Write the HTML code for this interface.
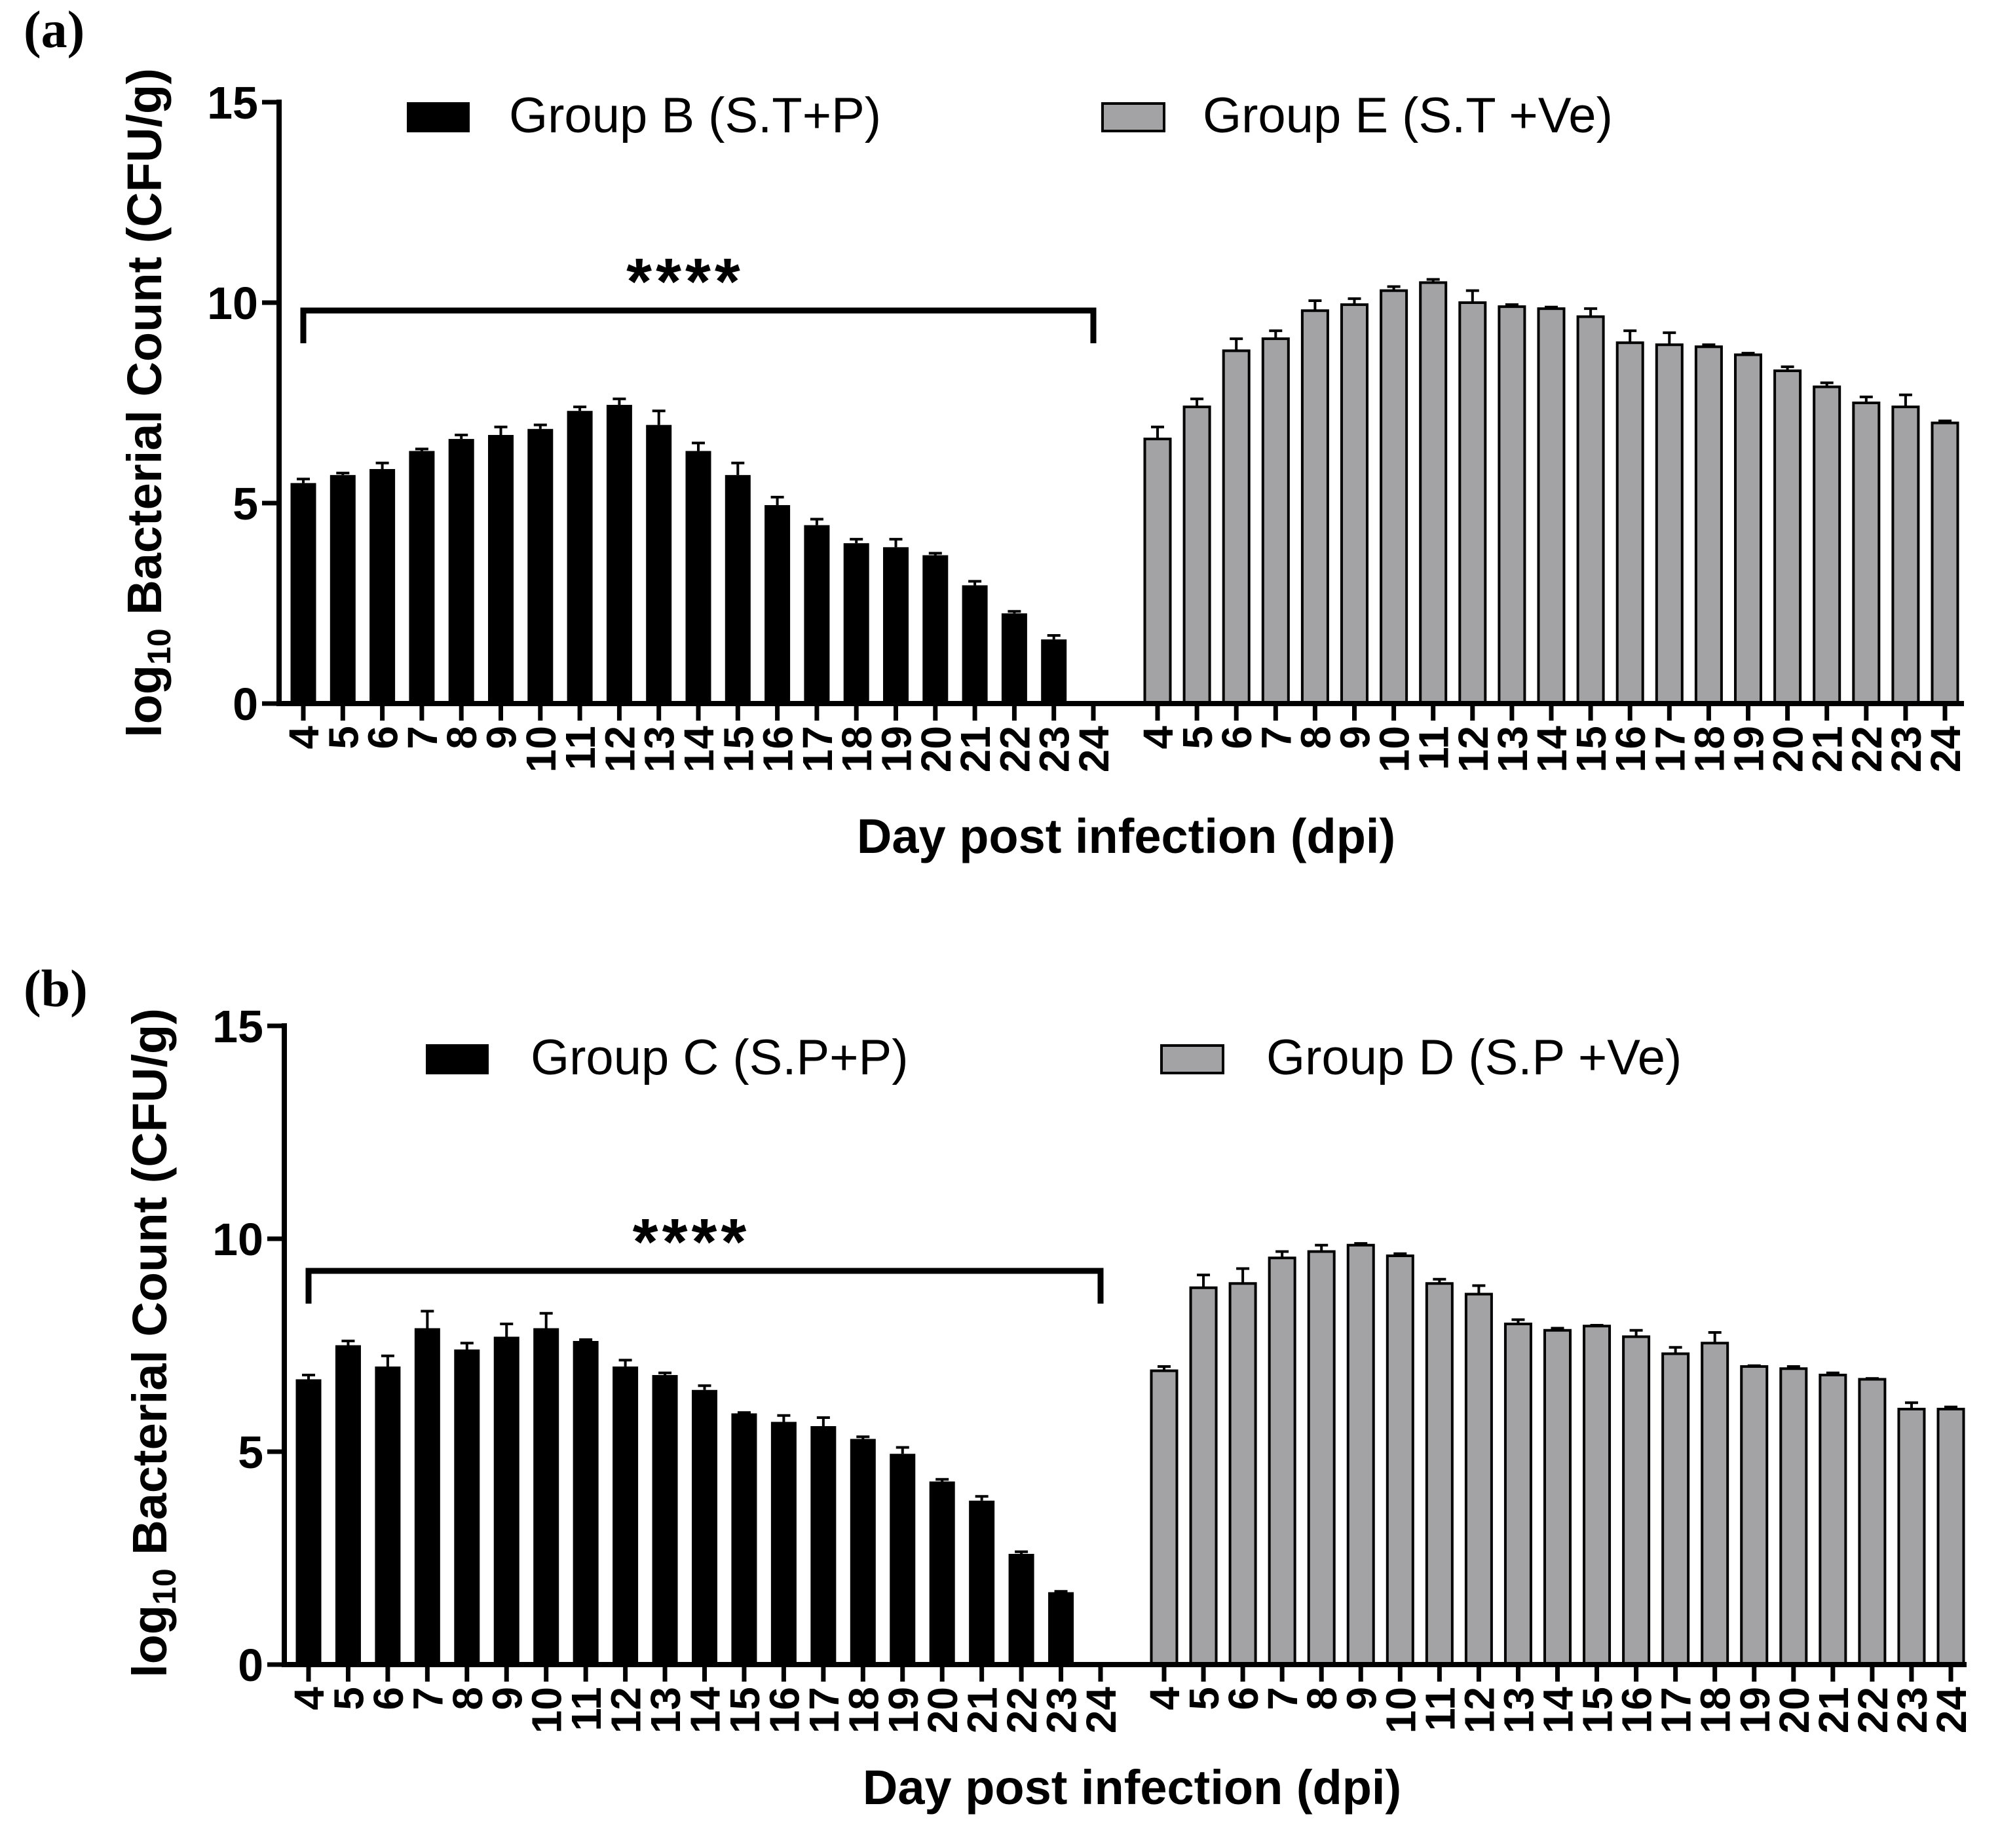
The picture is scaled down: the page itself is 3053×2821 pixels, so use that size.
<!DOCTYPE html>
<html><head><meta charset="utf-8"><style>
html,body{margin:0;padding:0;background:#fff}
svg{display:block}
</style></head><body>
<svg id="fig" width="3053" height="2821" viewBox="0 0 3053 2821" xmlns="http://www.w3.org/2000/svg" font-family="Liberation Sans, Arial, sans-serif">
<rect width="3053" height="2821" fill="#fff"/>
<g id="pa"></g>
<g id="pb"></g>
</svg>
<script>
const days = [4,5,6,7,8,9,10,11,12,13,14,15,16,17,18,19,20,21,22,23,24];
const aBlack = [5.5,5.7,5.85,6.3,6.6,6.7,6.85,7.3,7.45,6.95,6.3,5.7,4.95,4.45,4.0,3.9,3.7,2.95,2.25,1.6,0];
const aBlackErr = [0.1,0.05,0.15,0.05,0.1,0.2,0.1,0.1,0.15,0.35,0.2,0.3,0.2,0.15,0.1,0.2,0.05,0.1,0.05,0.1,0];
const aGray = [6.6,7.4,8.8,9.1,9.8,9.95,10.3,10.5,10.0,9.9,9.85,9.65,9.0,8.95,8.9,8.7,8.3,7.9,7.5,7.4,7.0];
const aGrayErr = [0.3,0.2,0.3,0.2,0.25,0.15,0.1,0.08,0.3,0.05,0.04,0.2,0.3,0.3,0.05,0.04,0.1,0.1,0.15,0.3,0.05];
const bBlack = [6.7,7.5,7.0,7.9,7.4,7.7,7.9,7.6,7.0,6.8,6.45,5.9,5.7,5.6,5.3,4.95,4.3,3.85,2.6,1.7,0];
const bBlackErr = [0.1,0.1,0.25,0.4,0.15,0.3,0.35,0.03,0.15,0.05,0.1,0.02,0.15,0.2,0.05,0.15,0.05,0.1,0.05,0.02,0];
const bGray = [6.9,8.85,8.95,9.55,9.7,9.85,9.6,8.95,8.7,8.0,7.85,7.95,7.7,7.3,7.55,7.0,6.95,6.8,6.7,6.0,6.0];
const bGrayErr = [0.1,0.3,0.35,0.15,0.15,0.04,0.05,0.1,0.2,0.1,0.05,0.02,0.15,0.15,0.25,0.02,0.05,0.05,0.02,0.15,0.05];
const yTicks = [0,5,10,15];

const NS = "http://www.w3.org/2000/svg";
function mk(parent, tag, attrs, txt){
  const e = document.createElementNS(NS, tag);
  for (const k in attrs) e.setAttribute(k, attrs[k]);
  if (txt !== undefined) e.textContent = txt;
  parent.appendChild(e);
  return e;
}

function panel(g, cfg){
  const yS = v => cfg.y0 - (v/15)*(cfg.y0 - cfg.y15);
  const xL = i => cfg.l4 + i*(cfg.l24 - cfg.l4)/20;
  const xR = i => cfg.r4 + i*(cfg.r24 - cfg.r4)/20;
  const bw = 39;
  let t = mk(g,'text',{x:cfg.labX,y:cfg.labY,'font-size':80,'font-weight':'bold',style:'font-family:"Liberation Serif",serif'},cfg.label);
  
  
  function series(vals, errs, xf, fill, name){
    vals.forEach((v,i)=>{
      const x = xf(i);
      if (v > 0){
        const top = yS(v), et = yS(v+errs[i]);
        const eb = mk(g,'line',{x1:x,x2:x,y1:top,y2:et,stroke:'#000','stroke-width':4});
        
        
        const cap = mk(g,'line',{x1:x-10,x2:x+10,y1:et,y2:et,stroke:'#000','stroke-width':4});
        
        
        const r = mk(g,'rect',{x:x-bw/2,y:top,width:bw,height:cfg.y0-top,fill:fill,stroke:'#000','stroke-width':fill==='#000'?0:4});
        
        
      }
      const tk = mk(g,'line',{x1:x,x2:x,y1:cfg.y0,y2:cfg.y0+26,stroke:'#000','stroke-width':7});
      
      
      const lb = mk(g,'text',{x:0,y:0,'font-size':64,'font-weight':'bold','text-anchor':'end',transform:`translate(${x+23},${cfg.y0+34}) rotate(-90)`},String(days[i]));
      
      
    });
  }
  series(cfg.black, cfg.blackErr, xL, '#000', 'black');
  series(cfg.gray, cfg.grayErr, xR, '#a3a3a6', 'gray');
  let a = mk(g,'line',{x1:cfg.ax,x2:cfg.ax,y1:cfg.y15-4,y2:cfg.y0+4,stroke:'#000','stroke-width':8});
   
  a = mk(g,'line',{x1:cfg.ax-4,x2:cfg.axEnd,y1:cfg.y0,y2:cfg.y0,stroke:'#000','stroke-width':8});
   
  yTicks.forEach(v=>{
    const y = yS(v);
    const l = mk(g,'line',{x1:cfg.ax-26,x2:cfg.ax,y1:y,y2:y,stroke:'#000','stroke-width':7});
     
    const tx = mk(g,'text',{x:cfg.ax-32,y:y+25,'font-size':70,'font-weight':'bold','text-anchor':'end'},String(v));
     
  });
  const yt = mk(g,'text',{x:0,y:0,'font-size':74,'font-weight':'bold','text-anchor':'middle',transform:`translate(${cfg.ytX},${cfg.ytY}) rotate(-90)`});
   
  mk(yt,'tspan',{},'log');
  mk(yt,'tspan',{'font-size':50,dy:14},'10');
  mk(yt,'tspan',{dy:-14},' Bacterial Count (CFU/g)');
  const xt = mk(g,'text',{x:cfg.xtX,y:cfg.xtY,'font-size':74,'font-weight':'bold','text-anchor':'middle'},'Day post infection (dpi)');
   
  const by = cfg.brY;
  const br = mk(g,'path',{d:`M${xL(0)},${by+50} V${by} H${xL(20)} V${by+50}`,fill:'none',stroke:'#000','stroke-width':9});
   
  const st = mk(g,'text',{x:(xL(0)+xL(20))/2 - 20,y:by-10,'font-size':100,'font-weight':'bold','text-anchor':'middle','letter-spacing':6},'****');
   
  const lg = cfg.leg;
  let r = mk(g,'rect',{x:lg.bx,y:lg.y,width:96,height:46,fill:'#000'});
   
  let lt = mk(g,'text',{x:lg.bt,y:lg.y+46,'font-size':76},lg.bl);
   
  r = mk(g,'rect',{x:lg.gx,y:lg.y+2,width:94,height:42,fill:'#a3a3a6',stroke:'#000','stroke-width':4});
   
  lt = mk(g,'text',{x:lg.gt,y:lg.y+46,'font-size':76},lg.gl);
   
}

panel(document.getElementById('pa'),{
  label:'(a)',labX:36,labY:72,
  y0:1074,y15:156,ax:426,axEnd:2998,
  l4:463,l24:1669,r4:1767,r24:2969,
  black:aBlack,blackErr:aBlackErr,gray:aGray,grayErr:aGrayErr,
  ytX:246,ytY:615,xtX:1719,xtY:1302,brY:474,
  leg:{y:156,bx:621,bt:777,bl:'Group B (S.T+P)',gx:1683,gt:1836,gl:'Group E (S.T +Ve)'}
});
panel(document.getElementById('pb'),{
  label:'(b)',labX:36,labY:1536,
  y0:2541,y15:1566,ax:434,axEnd:3002,
  l4:471,l24:1680,r4:1777,r24:2978,
  black:bBlack,blackErr:bBlackErr,gray:bGray,grayErr:bGrayErr,
  ytX:254,ytY:2050,xtX:1728,xtY:2754,brY:1940,
  leg:{y:1594,bx:650,bt:810,bl:'Group C (S.P+P)',gx:1773,gt:1933,gl:'Group D (S.P +Ve)'}
});
</script>
</body></html>
